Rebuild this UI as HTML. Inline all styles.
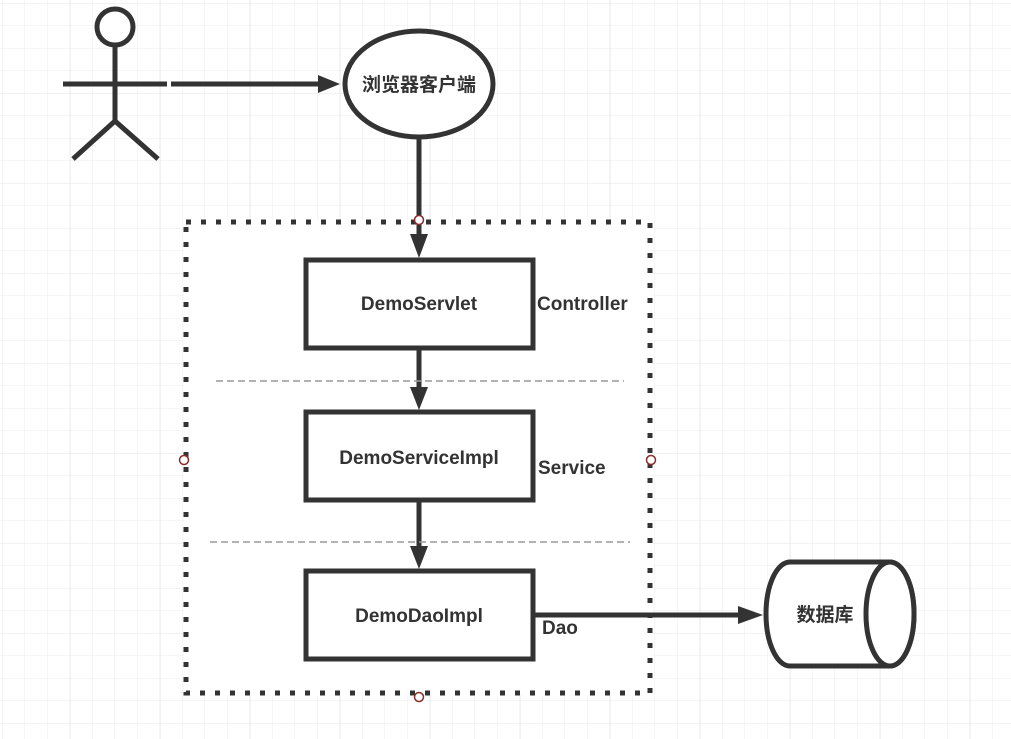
<!DOCTYPE html>
<html><head><meta charset="utf-8"><style>
html,body{margin:0;padding:0;background:#fff}
svg{display:block}
text{font-family:"Liberation Sans","Noto Sans CJK SC",sans-serif;font-weight:bold;fill:#333}
</style></head><body>
<svg width="1011" height="739" viewBox="0 0 1011 739" xmlns="http://www.w3.org/2000/svg">
<defs>
<pattern id="g" x="2" y="3" width="22.5" height="22.5" patternUnits="userSpaceOnUse">
<path d="M0 0H22.5M0 0V22.5" stroke="#eeeeee" stroke-width="1" fill="none"/>
</pattern>
<pattern id="G" x="70" y="3" width="90" height="90" patternUnits="userSpaceOnUse">
<path d="M0 0H90M0 0V90" stroke="#e6e6e6" stroke-width="1" fill="none"/>
</pattern>
</defs>
<rect width="1011" height="739" fill="url(#g)"/>
<rect width="1011" height="739" fill="url(#G)"/>
<rect x="184" y="220" width="468" height="475" fill="#fff"/>
<rect x="186" y="222" width="464" height="471" fill="none" stroke="#333" stroke-width="5" stroke-dasharray="5 10"/>

<g stroke="#333" stroke-width="5" fill="none">
<circle cx="115" cy="27" r="18" fill="#fff"/>
<line x1="115" y1="45" x2="115" y2="122"/>
<line x1="63" y1="84" x2="167" y2="84"/>
<line x1="115" y1="121" x2="73" y2="159"/>
<line x1="115" y1="121" x2="158" y2="159"/>
<line x1="171" y1="84" x2="320" y2="84"/>
</g>
<polygon points="318,75 340,84 318,93" fill="#333"/>

<ellipse cx="419" cy="84" rx="74" ry="53" fill="#fff" stroke="#333" stroke-width="5"/>
<text x="419" y="91" text-anchor="middle" font-size="19">浏览器客户端</text>

<g stroke="#333" stroke-width="5">
<line x1="419" y1="138" x2="419" y2="238"/>
<line x1="419" y1="349" x2="419" y2="390"/>
<line x1="419" y1="501" x2="419" y2="550"/>
<line x1="533" y1="615" x2="740" y2="615"/>
</g>
<polygon points="410,234 419,258 428,234" fill="#333"/>
<polygon points="410,387 419,410 428,387" fill="#333"/>
<polygon points="410,546 419,569 428,546" fill="#333"/>
<polygon points="738,606 763,615 738,624" fill="#333"/>

<line x1="216" y1="381" x2="624" y2="381" stroke="#999" stroke-width="1.5" stroke-dasharray="7 4"/>
<line x1="210" y1="542" x2="630" y2="542" stroke="#999" stroke-width="1.5" stroke-dasharray="7 4"/>

<g fill="#fff" stroke="#333" stroke-width="5">
<rect x="306" y="260" width="227" height="88"/>
<rect x="306" y="412" width="227" height="88"/>
<rect x="306" y="571" width="227" height="88"/>
</g>
<text x="419" y="310" text-anchor="middle" font-size="19">DemoServlet</text>
<text x="419" y="464" text-anchor="middle" font-size="19">DemoServiceImpl</text>
<text x="419" y="622" text-anchor="middle" font-size="19">DemoDaoImpl</text>
<text x="537" y="310" font-size="19">Controller</text>
<text x="538" y="474" font-size="19">Service</text>
<text x="542" y="634" font-size="19">Dao</text>

<g fill="none" stroke="#8b2b2b" stroke-width="1.5">
<circle cx="419" cy="220" r="4.5" fill="#fff"/>
<circle cx="184" cy="460" r="4.5" fill="#fff"/>
<circle cx="651" cy="460" r="4.5" fill="#fff"/>
<circle cx="419" cy="697" r="4.5" fill="#fff"/>
</g>

<path d="M790 562 H890 A24 52 0 0 1 890 666 H790 A24 52 0 0 1 790 562 Z" fill="#fff" stroke="#333" stroke-width="5"/>
<ellipse cx="890" cy="614" rx="24" ry="52" fill="#fff" stroke="#333" stroke-width="5"/>
<text x="825" y="621" text-anchor="middle" font-size="19">数据库</text>
</svg>
</body></html>
